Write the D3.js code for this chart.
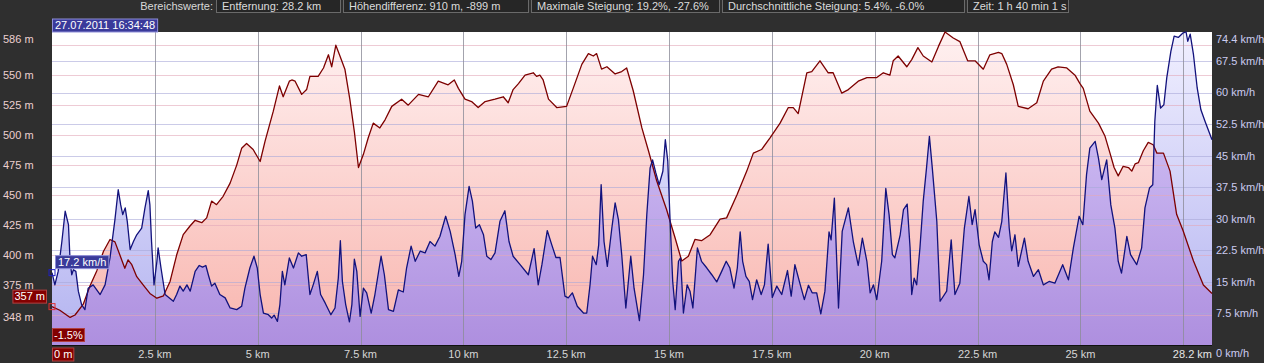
<!DOCTYPE html>
<html>
<head>
<meta charset="utf-8">
<script src="https://cdn.jsdelivr.net/npm/d3@7"></script>
<style>
  body { margin: 0; background: #2f2f2f; }
  svg { display: block; font-family: 'Liberation Sans', Arial, sans-serif; font-size: 11px; }
</style>
</head>
<body>
<div class="chart"></div>
<script>
// Höhenprofil [km, m]
const elevation = [
  [0,357],[0.19,354],[0.44,348],[0.56,350],[0.76,359],[0.92,374],[1.09,387],[1.25,403],[1.41,413],[1.53,411],[1.65,400],[1.77,389],[1.85,396],[1.94,392],[2.06,382],[2.22,375],[2.38,368],[2.55,364],[2.71,366],[2.87,378],[3.03,400],[3.19,417],[3.35,424],[3.48,429],[3.64,427],[3.76,431],[3.88,445],[4.00,442],[4.16,449],[4.33,460],[4.49,475],[4.61,489],[4.73,493],[4.89,488],[5.06,478],[5.18,495],[5.38,520],[5.53,541],[5.62,532],[5.77,545],
  [5.83,546],[5.91,545],[6.07,534],[6.19,538],[6.27,549],[6.47,549],[6.60,556],[6.72,567],[6.80,557],[6.90,575],[7.00,566],[7.12,555],[7.24,530],[7.35,503],[7.45,473],[7.57,484],[7.69,498],[7.81,510],[7.97,506],[8.10,513],[8.26,524],[8.50,530],[8.66,525],[8.91,534],[9.15,532],[9.39,545],[9.63,542],[9.78,546],[9.88,539],[10.04,530],[10.20,528],[10.36,523],[10.53,528],[10.77,530],[10.97,532],[11.09,527],[11.21,538],[11.34,543],
  [11.50,550],[11.70,552],[11.78,549],[11.86,550],[11.94,546],[12.07,530],[12.27,523],[12.51,524],[12.67,539],[12.88,559],[13.04,568],[13.16,566],[13.24,568],[13.36,555],[13.49,557],[13.69,551],[13.85,553],[13.97,556],[14.13,537],[14.34,506],[14.50,487],[14.70,462],[14.94,438],[15.15,414],[15.31,395],[15.47,399],[15.63,413],[15.79,412],[16.00,417],[16.24,430],[16.40,431],[16.65,450],[16.89,470],[17.05,485],[17.25,488],
  [17.46,498],[17.70,510],[17.90,523],[18.02,523],[18.14,518],[18.35,552],[18.47,553],[18.67,562],[18.87,552],[18.99,552],[19.20,535],[19.36,538],[19.60,545],[19.81,548],[20.05,548],[20.21,552],[20.37,550],[20.45,562],[20.57,566],[20.78,557],[20.90,563],[21.05,573],[21.18,566],[21.39,561],[21.55,574],[21.71,586],[21.91,581],[22.07,578],[22.26,562],[22.44,562],[22.64,555],[22.80,567],
  [23.01,569],[23.09,568],[23.21,559],[23.37,542],[23.49,524],[23.73,522],[23.94,527],[24.10,545],[24.30,555],[24.46,557],[24.67,556],[24.87,550],[24.99,543],[25.07,539],[25.23,520],[25.44,510],[25.60,499],[25.72,485],[25.82,473],[25.92,466],[26.04,474],[26.17,473],[26.25,470],[26.33,476],[26.41,477],[26.53,487],[26.65,494],[26.77,492],[26.86,485],[27.02,485],[27.18,470],[27.34,434],[27.50,420],[27.75,395],[27.99,375],[28.2,368]
]

// Geschwindigkeit [km, km/h]
const speed = [
  [0,17.2],[0.07,14.3],[0.15,17.5],[0.24,24.6],[0.32,31.8],[0.40,28.6],[0.44,19.9],[0.48,16.7],[0.52,17.9],[0.58,17.5],[0.64,12.8],[0.72,9.6],[0.80,8.4],[0.88,13.5],[1.00,14.3],[1.17,12.0],[1.29,14.3],[1.41,20.7],[1.53,29.8],[1.61,36.9],[1.67,33.3],[1.72,31.0],[1.78,32.6],[1.83,29.4],[1.90,22.7],[1.98,24.6],[2.06,26.2],[2.18,27.8],[2.26,32.6],[2.34,36.7],[2.38,33.3],[2.42,24.6],[2.48,14.3],[2.55,19.9],[2.58,23.1],[2.65,18.3],[2.75,12.0],[2.95,10.4],[3.03,12.0],[3.11,14.0],[3.19,12.8],[3.28,14.3],[3.36,12.8],[3.48,17.5],[3.58,18.9],[3.66,18.5],[3.74,18.9],[3.80,16.7],[3.88,14.0],[3.96,14.7],[4.08,12.0],[4.21,11.2],[4.33,8.8],[4.49,8.4],[4.61,9.2],[4.69,13.5],[4.81,18.3],[4.91,21.1],[4.99,18.3],[5.06,12.0],[5.14,7.6],[5.26,7.2],[5.34,6.4],[5.40,7.1],[5.48,5.6],[5.54,9.6],[5.60,17.5],[5.66,14.3],[5.77,20.7],
  [5.87,18.3],[5.99,21.9],[6.07,21.1],[6.18,21.5],[6.27,12.0],[6.35,14.3],[6.45,17.5],[6.53,12.0],[6.64,10.0],[6.78,7.2],[6.88,8.8],[6.96,15.9],[7.01,24.8],[7.06,15.1],[7.14,9.6],[7.23,5.5],[7.29,9.6],[7.35,20.4],[7.41,17.5],[7.49,6.8],[7.57,13.5],[7.65,12.4],[7.76,7.6],[7.85,12.0],[8.00,21.1],[8.08,16.7],[8.18,8.4],[8.30,8.0],[8.42,13.1],[8.54,12.6],[8.62,18.3],[8.73,23.5],[8.83,19.9],[8.95,22.3],[9.07,21.9],[9.19,24.6],[9.31,23.5],[9.43,25.8],[9.57,30.6],[9.68,27.0],[9.80,21.5],[9.89,16.3],[9.96,19.9],[10.04,31.0],[10.14,37.7],[10.22,34.2],[10.30,27.8],[10.39,28.6],[10.49,26.2],[10.57,21.1],[10.67,20.3],[10.77,21.9],[10.89,29.4],[11.01,31.9],[11.11,24.6],[11.21,21.1],[11.38,19.1],
  [11.58,16.7],[11.72,22.9],[11.82,14.3],[11.91,19.1],[12.04,27.2],[12.15,23.8],[12.25,20.8],[12.35,20.8],[12.47,11.6],[12.55,11.2],[12.65,12.4],[12.77,9.2],[12.92,7.6],[13.00,7.6],[13.08,14.3],[13.14,21.1],[13.23,19.1],[13.29,23.8],[13.35,38.1],[13.42,24.6],[13.50,18.7],[13.61,27.8],[13.69,33.8],[13.77,29.8],[13.85,21.5],[13.95,8.8],[14.07,21.1],[14.15,13.5],[14.28,5.8],[14.38,16.7],[14.46,31.0],[14.54,42.1],[14.60,44.0],[14.68,40.9],[14.76,38.1],[14.85,41.3],[14.91,48.8],[14.97,43.7],[15.02,31.0],[15.09,15.1],[15.15,8.4],[15.23,19.9],[15.28,20.7],[15.35,7.6],[15.44,14.3],[15.51,12.8],[15.58,8.8],[15.69,23.1],[15.79,19.9],[15.92,18.3],[16.04,16.7],[16.16,15.0],[16.28,17.5],[16.39,19.9],[16.48,18.3],[16.58,13.5],[16.66,18.3],[16.73,26.9],[16.79,19.9],[16.87,16.3],[16.95,15.1],[17.03,10.8],[17.13,15.5],
  [17.24,12.0],[17.32,14.3],[17.41,24.0],[17.51,11.3],[17.62,14.0],[17.74,12.0],[17.88,17.7],[17.97,11.6],[18.06,19.1],[18.18,14.7],[18.29,10.8],[18.39,14.2],[18.48,12.4],[18.59,12.4],[18.69,7.4],[18.79,12.8],[18.89,26.9],[18.94,25.0],[19.02,34.9],[19.12,8.8],[19.21,27.0],[19.36,32.6],[19.48,24.6],[19.60,18.9],[19.70,25.4],[19.81,19.9],[19.89,12.4],[19.97,14.3],[20.05,10.8],[20.17,19.9],[20.27,37.2],[20.35,31.0],[20.43,21.5],[20.49,20.7],[20.62,26.2],[20.70,32.2],[20.79,33.5],[20.86,23.1],[20.90,12.0],[20.96,15.9],[21.02,14.3],[21.10,23.1],[21.18,34.2],[21.26,42.1],[21.33,49.6],[21.40,42.1],[21.51,29.4],[21.59,10.4],[21.75,12.8],[21.86,25.0],[21.95,12.0],[22.07,14.7],[22.18,27.8],[22.29,35.3],[22.37,28.6],[22.44,32.2],[22.54,23.8],[22.64,19.9],[22.72,19.1],[22.78,15.5],[22.86,24.6],[22.92,26.9],
  [23.01,25.6],[23.09,29.4],[23.19,40.9],[23.27,27.8],[23.33,22.4],[23.41,26.2],[23.49,18.7],[23.64,25.4],[23.73,19.9],[23.86,16.3],[23.98,17.9],[24.10,14.3],[24.24,15.1],[24.38,14.7],[24.57,19.1],[24.71,15.5],[24.83,23.1],[24.97,30.6],[25.06,28.6],[25.15,40.5],[25.23,46.8],[25.36,48.4],[25.44,44.4],[25.52,39.3],[25.64,44.0],[25.74,33.3],[25.84,27.8],[25.92,19.9],[26.00,17.1],[26.13,25.8],[26.22,21.5],[26.37,19.1],[26.49,23.1],[26.57,32.6],[26.68,37.3],[26.76,38.1],[26.81,53.2],[26.87,61.7],[26.95,56.3],[27.03,57.1],[27.10,63.5],[27.20,69.8],[27.28,73.4],[27.38,73.1],[27.50,74.2],[27.57,74.4],[27.61,72.2],[27.67,73.9],[27.75,69.0],[27.84,61.1],[27.93,55.9],[28.03,53.2],[28.2,48.8]
]

// Achsen
const elevGrid = [575, 550, 525, 500, 475, 450, 425, 400, 375, 350]
const elevLabels = [550, 525, 500, 475, 450, 425, 400, 375]
const speedGrid = [67.5, 60, 52.5, 45, 37.5, 30, 22.5, 15, 7.5]
const distGrid = [2.5, 5, 7.5, 10, 12.5, 15, 17.5, 20, 22.5, 25, 27.5]
const distLabels = [2.5, 5, 7.5, 10, 12.5, 15, 17.5, 20, 22.5, 25]
const totalKm = 28.2
const elevMin = 348, elevMax = 586
const speedMax = 74.4
const startGrade = '-1.5%'
const startTime = '27.07.2011 16:34:48'

// Kopfzeile
const summaryTitle = 'Bereichswerte:'
const summary = [
  'Entfernung: 28.2 km',
  'Höhendifferenz: 910 m, -899 m',
  'Maximale Steigung: 19.2%, -27.6%',
  'Durchschnittliche Steigung: 5.4%, -6.0%',
  'Zeit: 1 h 40 min 1 s'
]

const W = 1264, H = 363
const plot = { left: 52, right: 1212, top: 32, bottom: 345 }
const boxW = [125, 186, 189, 243, 102]

const svg = d3.select('.chart').append('svg').attr('width', W).attr('height', H)
svg.append('rect').attr('width', W).attr('height', H).attr('fill', '#2f2f2f')

const x = d3.scaleLinear([0, totalKm], [plot.left, plot.right])
const yE = d3.scaleLinear([325, elevMax], [plot.bottom, plot.top])
const yS = d3.scaleLinear([0, speedMax], [plot.bottom, plot.top])

// gradients
const defs = svg.append('defs')
function grad(id, top, bottom) {
  const g = defs.append('linearGradient').attr('id', id)
    .attr('gradientUnits', 'userSpaceOnUse')
    .attr('x1', 0).attr('x2', 0).attr('y1', plot.top).attr('y2', plot.bottom)
  g.append('stop').attr('offset', '0%').attr('stop-color', top)
  g.append('stop').attr('offset', '100%').attr('stop-color', bottom)
}
grad('pinkGrad', '#fff1f1', '#f8b4ad')
grad('blueGrad', '#f1f0ff', '#b3b3f0')
grad('purpleGrad', '#d9cdfb', '#ae8fdf')

const elevArea = d3.area().x(d => x(d[0])).y0(plot.bottom).y1(d => yE(d[1]))
const speedArea = d3.area().x(d => x(d[0])).y0(plot.bottom).y1(d => yS(d[1]))
const elevLine = d3.line().x(d => x(d[0])).y(d => yE(d[1]))
const speedLine = d3.line().x(d => x(d[0])).y(d => yS(d[1]))

defs.append('clipPath').attr('id', 'elevClip')
  .append('path').attr('d', elevArea(elevation))

svg.append('rect').attr('x', plot.left).attr('y', plot.top)
  .attr('width', plot.right - plot.left).attr('height', plot.bottom - plot.top)
  .attr('fill', '#fff')

svg.append('path').attr('d', elevArea(elevation)).attr('fill', 'url(#pinkGrad)')
svg.append('path').attr('d', speedArea(speed)).attr('fill', 'url(#blueGrad)')
svg.append('path').attr('d', speedArea(speed)).attr('fill', 'url(#purpleGrad)')
  .attr('clip-path', 'url(#elevClip)')

// grid
const grid = svg.append('g').attr('shape-rendering', 'crispEdges')
grid.selectAll('.ge').data(elevGrid).join('line').attr('class', 'ge')
  .attr('x1', plot.left).attr('x2', plot.right)
  .attr('y1', d => Math.round(yE(d)) + 0.5).attr('y2', d => Math.round(yE(d)) + 0.5)
  .attr('stroke', '#e2a9b9').attr('stroke-opacity', 0.6)
grid.selectAll('.gs').data(speedGrid).join('line').attr('class', 'gs')
  .attr('x1', plot.left).attr('x2', plot.right)
  .attr('y1', d => Math.round(yS(d)) + 0.5).attr('y2', d => Math.round(yS(d)) + 0.5)
  .attr('stroke', '#a9a9d8').attr('stroke-opacity', 0.6)
grid.selectAll('.gx').data(distGrid).join('line').attr('class', 'gx')
  .attr('x1', d => Math.round(x(d)) + 0.5).attr('x2', d => Math.round(x(d)) + 0.5)
  .attr('y1', plot.top).attr('y2', plot.bottom)
  .attr('stroke', '#8c8c98').attr('stroke-opacity', 0.8)

svg.append('path').attr('d', elevLine(elevation)).attr('fill', 'none')
  .attr('stroke', '#7d0000').attr('stroke-width', 1.3).attr('stroke-linejoin', 'round')
svg.append('path').attr('d', speedLine(speed)).attr('fill', 'none')
  .attr('stroke', '#12127c').attr('stroke-width', 1.3).attr('stroke-linejoin', 'round')

svg.append('line').attr('x1', plot.left).attr('x2', plot.right)
  .attr('y1', plot.bottom + 0.5).attr('y2', plot.bottom + 0.5).attr('stroke', '#111')

// axis labels
const labels = svg.append('g')
labels.selectAll('.le').data(elevLabels).join('text').attr('class', 'le')
  .attr('x', 3).attr('y', d => yE(d)).attr('dy', '0.35em')
  .attr('fill', '#ecd0d0').text(d => d + ' m')
labels.append('text').attr('x', 3).attr('y', plot.top + 7).attr('dy', '0.35em')
  .attr('fill', '#ecd0d0').text(elevMax + ' m')
labels.append('text').attr('x', 3).attr('y', yE(elevMin)).attr('dy', '0.35em')
  .attr('fill', '#ecd0d0').text(elevMin + ' m')

labels.selectAll('.ls').data(speedGrid).join('text').attr('class', 'ls')
  .attr('x', plot.right + 4).attr('y', d => yS(d)).attr('dy', '0.35em')
  .attr('fill', '#cbcbef').text(d => d + ' km/h')
labels.append('text').attr('x', plot.right + 4).attr('y', plot.top + 7).attr('dy', '0.35em')
  .attr('fill', '#cbcbef').text(speedMax + ' km/h')
labels.append('text').attr('x', plot.right + 4).attr('y', plot.bottom + 8).attr('dy', '0.35em')
  .attr('fill', '#cbcbef').text('0 km/h')

labels.selectAll('.lx').data(distLabels).join('text').attr('class', 'lx')
  .attr('x', d => x(d)).attr('y', plot.bottom + 9).attr('dy', '0.35em')
  .attr('text-anchor', 'middle').attr('fill', '#d6d6d6').text(d => d + ' km')
labels.append('text').attr('x', plot.right).attr('y', plot.bottom + 9).attr('dy', '0.35em')
  .attr('text-anchor', 'end').attr('fill', '#e6e6e6').text(totalKm + ' km')

// boxed tags
function tag(px, py, label, fill, stroke, anchor, padX, minW) {
  const g = svg.append('g')
  const t = g.append('text').attr('x', px).attr('y', py).attr('dy', '0.35em')
    .attr('text-anchor', anchor).attr('fill', '#fff').text(label)
  const b = t.node().getBBox()
  const w = Math.max(b.width + padX * 2, minW || 0)
  const bx = anchor === 'end' ? b.x + b.width + padX - w : b.x - padX
  g.insert('rect', 'text').attr('x', bx + 0.5).attr('y', py - 6.5)
    .attr('width', w - 1).attr('height', 13).attr('fill', fill).attr('stroke', stroke)
  return g
}

// markers at start
const e0 = elevation[0], s0 = speed[0]
svg.append('rect').attr('x', x(s0[0]) - 3).attr('y', yS(s0[1]) - 3).attr('width', 6).attr('height', 6)
  .attr('fill', 'none').attr('stroke', '#2020c0')
svg.append('rect').attr('x', x(e0[0]) - 3).attr('y', yE(e0[1]) - 3).attr('width', 6).attr('height', 6)
  .attr('fill', 'none').attr('stroke', '#e03030')

tag(x(s0[0]) + 6, yS(s0[1]) - 10.5, s0[1] + ' km/h', '#3a3a9a', '#8e8ed8', 'start', 3)
tag(plot.left - 7, yE(e0[1]) - 10, e0[1] + ' m', '#830000', '#b04040', 'end', 2)
tag(plot.left + 2, plot.bottom - 10, startGrade, '#830000', '#b04040', 'start', 2)
tag(plot.left + 2, plot.bottom + 9.5, '0 m', '#830000', '#b04040', 'start', 2)
tag(plot.left + 3, plot.top - 6.5, startTime, '#3a3a9a', '#8e8ed8', 'start', 3)

// Kopfzeile
const head = svg.append('g')
head.append('text').attr('x', 213).attr('y', 6.5).attr('dy', '0.35em')
  .attr('text-anchor', 'end').attr('fill', '#d8d8d8').text(summaryTitle)
let bx = 216
summary.forEach((s, i) => {
  head.append('rect').attr('x', bx + 0.5).attr('y', -0.5).attr('width', boxW[i] - 1).attr('height', 13)
    .attr('fill', '#262626').attr('stroke', '#6a6a6a')
  head.append('text').attr('x', bx + 6).attr('y', 6.5).attr('dy', '0.35em')
    .attr('fill', '#dcdcdc').text(s)
  bx += boxW[i] + 2
})
</script>
</body>
</html>
